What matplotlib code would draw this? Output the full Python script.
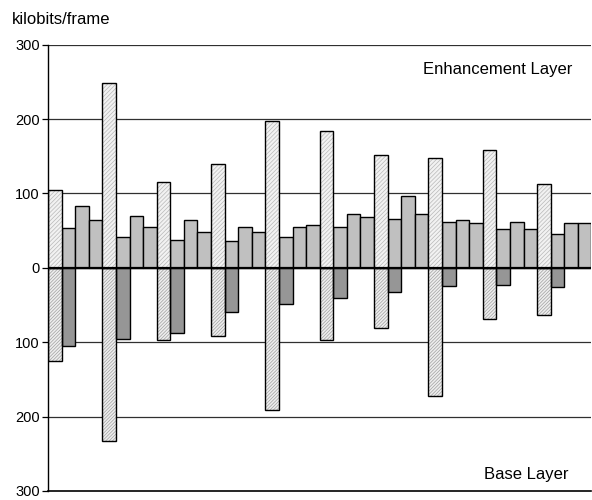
import numpy as np
import matplotlib
matplotlib.use("Agg")
import matplotlib.pyplot as plt

plt.rcParams['font.family'] = ['Liberation Sans', 'DejaVu Sans']
plt.rcParams['hatch.linewidth'] = 0.5

# frame sequence: I/P frame every 4th, followed by 3 frames
enh_layer = [104, 54, 83, 64, 248, 42, 70, 55, 115, 37, 64, 48, 139, 36, 55, 48,
             197, 42, 55, 57, 184, 55, 72, 68, 152, 66, 96, 73, 148, 61, 65, 60,
             158, 52, 62, 52, 113, 46, 60, 60]
# base layer only for the two frames of each group of four
base_hatched = [125, 233, 97, 92, 191, 97, 81, 172, 69, 64]
base_gray = [105, 95, 87, 59, 48, 41, 33, 25, 23, 26]
ytick_vals = [-300, -200, -100, 0, 100, 200, 300]
ytick_labels = ['300', '200', '100', '0', '100', '200', '300']

n = len(enh_layer)
x = np.arange(n)
is_key = (x % 4 == 0)

fig = plt.figure(figsize=(5.92, 5.0), dpi=100)
ax = fig.add_axes([0.0811, 0.018, 0.918, 0.8926])

for yv in [100, 200, 300, -100, -200]:
    ax.axhline(yv, color='#303030', lw=0.9, zorder=0)

enh = np.array(enh_layer)
ax.bar(x[~is_key], enh[~is_key], width=1.0, color='#c0c0c0',
       edgecolor='black', lw=1.0, zorder=2)
ax.bar(x[is_key], enh[is_key], width=1.0, color='#f2f2f2', hatch='////////',
       edgecolor='#b8b8b8', lw=0, zorder=2)
ax.bar(x[is_key], enh[is_key], width=1.0, color='none',
       edgecolor='black', lw=1.0, zorder=3)

kx = x[is_key]
ax.bar(kx, -np.array(base_hatched), width=1.0, color='#eeeeee', hatch='//////////',
       edgecolor='#a0a0a0', lw=0, zorder=2)
ax.bar(kx, -np.array(base_hatched), width=1.0, color='none',
       edgecolor='black', lw=1.0, zorder=3)
ax.bar(kx + 1, -np.array(base_gray), width=1.0, color='#969696',
       edgecolor='black', lw=1.0, zorder=2)

ax.axhline(0, color='black', lw=1.6, zorder=4)

ax.set_xlim(-0.5, n - 0.5)
ax.set_ylim(-300, 300)
ax.set_yticks(ytick_vals)
ax.set_yticklabels(ytick_labels, fontsize=10.5)
ax.set_xticks([])
ax.tick_params(axis='y', length=4, width=0.9, pad=2)
for s in ['top', 'right']:
    ax.spines[s].set_visible(False)
ax.spines['left'].set_linewidth(1.0)
ax.spines['bottom'].set_linewidth(1.2)

ax.text(0.965, 0.945, 'Enhancement Layer', transform=ax.transAxes,
        ha='right', va='center', fontsize=12)
ax.text(0.958, 0.038, 'Base Layer', transform=ax.transAxes,
        ha='right', va='center', fontsize=12)
fig.text(0.02, 0.962, 'kilobits/frame', ha='left', va='center', fontsize=12)

fig.savefig('out.png', dpi=100)
